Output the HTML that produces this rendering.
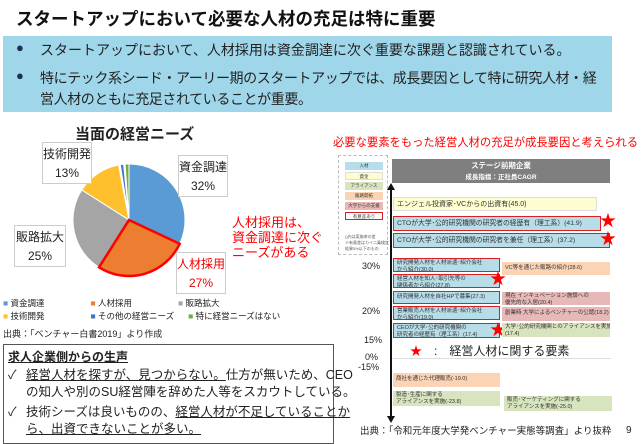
<!DOCTYPE html>
<html><head><meta charset="utf-8"><style>
*{margin:0;padding:0;box-sizing:border-box}
body{width:641px;height:440px;background:#fff;position:relative;overflow:hidden;font-family:"Liberation Sans","Noto Sans CJK JP",sans-serif;color:#222}
.a{position:absolute;white-space:nowrap}
.bar{position:absolute;font-size:5.5px;line-height:6.5px;padding:1px 3px;color:#333;white-space:nowrap;overflow:hidden}
.bl{background:#b7dde8}.ye{background:#fdfdd0;border:1px solid #ddd}.pe{background:#fbd3b5}.pk{background:#e6b9b8}.gr{background:#d7e4bd}
.rb{border:1.5px solid #d92020}
.star{position:absolute;color:#ff0000;font-size:16px;line-height:16px}
.lg{position:absolute;left:345px;width:38px;height:8px;font-size:4.5px;text-align:center;line-height:8px;color:#333}
</style></head><body>
<div class="a" style="left:16px;top:6px;font-size:17.5px;font-weight:bold;color:#111">スタートアップにおいて必要な人材の充足は特に重要</div>
<div class="a" style="left:3px;top:36px;width:609px;height:76px;background:#9fd6ea"></div>
<div class="a" style="left:16px;top:40px;font-size:13px;color:#1f2d5a">●</div>
<div class="a" style="left:40px;top:40px;font-size:14px">スタートアップにおいて、人材採用は資金調達に次ぐ重要な課題と認識されている。</div>
<div class="a" style="left:16px;top:68px;font-size:13px;color:#1f2d5a">●</div>
<div class="a" style="left:40px;top:68px;font-size:14px;line-height:21px;letter-spacing:-0.4px">特にテック系シード・アーリー期のスタートアップでは、成長要因として特に研究人材・経<br>営人材のともに充足されていることが重要。</div>

<div class="a" style="left:75px;top:123px;font-size:15px;font-weight:bold">当面の経営ニーズ</div>
<svg class="a" style="left:0;top:0" width="330" height="300">
<path d="M129,220 L129,164 A56,56 0 0 1 179.7,243.8Z" fill="#5b9bd5" stroke="#fff"/>
<path d="M129,220 L81.7,190 A56,56 0 0 1 118.5,165Z" fill="#ffc02e" stroke="#fff"/>
<path d="M129,220 L99,267.3 A56,56 0 0 1 81.7,190Z" fill="#a5a5a5" stroke="#fff"/>
<path d="M129,220 L120.3,164.7 A56,56 0 0 1 123.6,164.3Z" fill="#4472c4" stroke="#fff"/>
<path d="M129,220 L125.1,164.1 A56,56 0 0 1 129,164Z" fill="#70ad47" stroke="#fff"/>
<path d="M129,220 L179.7,243.8 A56,56 0 0 1 99,267.3Z" fill="#ed7d31" stroke="#f00" stroke-width="2.5"/>
</svg>
<div class="a" style="left:42px;top:142px;width:50px;height:42px;border:1px solid #ccc;background:#fff;font-size:12px;text-align:center;line-height:19px;padding-top:2px">技術開発<br>13%</div>
<div class="a" style="left:178px;top:155px;width:50px;height:42px;border:1px solid #ccc;background:#fff;font-size:12px;text-align:center;line-height:19px;padding-top:2px">資金調達<br>32%</div>
<div class="a" style="left:14px;top:225px;width:52px;height:42px;border:1px solid #ccc;background:#fff;font-size:12px;text-align:center;line-height:19px;padding-top:2px">販路拡大<br>25%</div>
<div class="a" style="left:176px;top:252px;width:50px;height:42px;border:1px solid #ccc;background:#fff;font-size:12px;text-align:center;line-height:19px;padding-top:2px;color:#e00">人材採用<br>27%</div>
<div class="a" style="left:232px;top:215px;font-size:13px;line-height:15px;color:#f00">人材採用は、<br>資金調達に次ぐ<br>ニーズがある</div>
<div class="a" style="left:3px;top:297px;font-size:8.5px;line-height:13px"><span style="color:#5b9bd5">■</span> 資金調達<span style="display:inline-block;width:46px"></span><span style="color:#ed7d31">■</span> 人材採用<span style="display:inline-block;width:46px"></span><span style="color:#a5a5a5">■</span> 販路拡大<br><span style="color:#ffc02e">■</span> 技術開発<span style="display:inline-block;width:46px"></span><span style="color:#4472c4">■</span> その他の経営ニーズ<span style="display:inline-block;width:14px"></span><span style="color:#70ad47">■</span> 特に経営ニーズはない</div>
<div class="a" style="left:3px;top:327px;font-size:9px">出典：「ベンチャー白書2019」より作成</div>
<div class="a" style="left:3px;top:344px;width:331px;height:100px;border:1px solid #555"></div>
<div class="a" style="left:8px;top:348px;font-size:12px;font-weight:bold;text-decoration:underline">求人企業側からの生声</div>
<div class="a" style="left:8px;top:367px;font-size:12.5px;line-height:17px">✓</div>
<div class="a" style="left:26px;top:367px;font-size:12.5px;line-height:17px"><u>経営人材を探すが、見つからない。</u>仕方が無いため、CEO<br>の知人や別のSU経営陣を辞めた人等をスカウトしている。</div>
<div class="a" style="left:8px;top:404px;font-size:12.5px;line-height:17px">✓</div>
<div class="a" style="left:26px;top:404px;font-size:12.5px;line-height:17px">技術シーズは良いものの、<u>経営人材が不足していることか<br>ら、出資できないことが多い。</u></div>

<div class="a" style="left:333px;top:134px;font-size:11.3px;color:#f00">必要な要素をもった経営人材の充足が成長要因と考えられる</div>
<div class="a" style="left:338px;top:155px;width:50px;height:100px;border:1px dashed #bbb"></div>
<div class="lg bl" style="top:162px">人材</div>
<div class="lg ye" style="top:172px">資金</div>
<div class="lg gr" style="top:182px">アライアンス</div>
<div class="lg pe" style="top:192px">販路開拓</div>
<div class="lg pk" style="top:202px">大学からの支援</div>
<div class="lg" style="top:212px;border:1px solid #d92020">有意差あり</div>
<div class="a" style="left:345px;top:234px;font-size:4px;line-height:6px;color:#555">()内は実施率の差<br>※有意差はカイ二乗検定<br>結果5%以下のもの</div>
<div class="a" style="left:392px;top:159px;width:218px;height:24px;background:#7f7f7f;color:#fff;text-align:center;font-size:7.5px;font-weight:bold;line-height:11px;padding-top:1px">ステージ前期企業<br><span style="font-size:6.5px">成長指標：正社員CAGR</span></div>
<div class="a" style="left:390px;top:187px;width:2px;height:230px;background:#111"></div>
<div class="a" style="left:387px;top:183px;width:0;height:0;border-left:4px solid transparent;border-right:4px solid transparent;border-bottom:7px solid #111"></div>
<div class="a" style="left:387px;top:416px;width:0;height:0;border-left:4px solid transparent;border-right:4px solid transparent;border-top:7px solid #111"></div>
<div class="bar ye" style="left:393px;top:197px;width:204px;height:14px;font-size:7px;line-height:11px">エンジェル投資家･VCからの出資有(45.0)</div>
<div class="bar bl rb" style="left:393px;top:216px;width:208px;height:15px;font-size:6.8px;line-height:11px">CTOが大学･公的研究機関の研究者の経歴有（理工系）(41.9)</div>
<div class="bar bl rb" style="left:393px;top:233px;width:217px;height:15px;font-size:6.8px;line-height:11px">CTOが大学･公的研究機関の研究者を兼任（理工系）(37.2)</div>
<div class="star" style="left:600px;top:214px">★</div>
<div class="star" style="left:600px;top:232px">★</div>
<div class="a" style="left:362px;top:261px;font-size:9px">30%</div>
<div class="bar bl rb" style="left:393px;top:258px;width:107px;height:14px">研究開発人材を人材派遣･紹介会社<br>から紹介(30.0)</div>
<div class="bar pe" style="left:502px;top:262px;width:108px;height:13px;line-height:11px">VC等を通じた販路の紹介(28.6)</div>
<div class="bar bl rb" style="left:393px;top:274px;width:107px;height:14px">経営人材を知人･取引先等の<br>関係者から紹介(27.8)</div>
<div class="star" style="left:490px;top:272px">★</div>
<div class="bar bl rb" style="left:393px;top:291px;width:107px;height:13px;line-height:9px">研究開発人材を自社HPで募集(27.3)</div>
<div class="bar pk" style="left:502px;top:292px;width:108px;height:13px">現在 インキュベーション施設への<br>優先的な入居(20.4)</div>
<div class="a" style="left:362px;top:306px;font-size:9px">20%</div>
<div class="bar bl rb" style="left:393px;top:306px;width:107px;height:14px">営業販売人材を人材派遣･紹介会社<br>から紹介(19.0)</div>
<div class="bar pk" style="left:502px;top:307px;width:108px;height:14px;line-height:11px">創業時 大学によるベンチャーの公認(18.2)</div>
<div class="a" style="left:364px;top:335px;font-size:9px">15%</div>
<div class="bar bl rb" style="left:393px;top:323px;width:107px;height:15px">CEOが大学･公的研究機関の<br>研究者の経歴有（理工系）(17.4)</div>
<div class="star" style="left:490px;top:323px">★</div>
<div class="bar gr" style="left:502px;top:323px;width:108px;height:14px">大学･公的研究機関とのアライアンスを実施<br>(17.4)</div>
<div class="a" style="left:410px;top:342px;font-size:12px"><span style="color:#f00">★</span>　:　経営人材に関する要素</div>
<div class="a" style="left:365px;top:352px;font-size:9px">0%</div>
<div class="a" style="left:393px;top:358px;width:218px;height:1px;background:#ddd"></div>
<div class="a" style="left:358px;top:362px;font-size:9px">-15%</div>
<div class="bar pe" style="left:393px;top:373px;width:107px;height:14px;line-height:11px">商社を通じた代理販売(-19.0)</div>
<div class="bar gr" style="left:393px;top:391px;width:107px;height:15px">製造･生産に関する<br>アライアンスを実施(-23.8)</div>
<div class="bar gr" style="left:504px;top:396px;width:108px;height:15px">販売･マーケティングに関する<br>アライアンスを実施(-25.0)</div>
<div class="a" style="left:360px;top:423px;font-size:9.5px">出典：「令和元年度大学発ベンチャー実態等調査」より抜粋</div>
<div class="a" style="left:626px;top:425px;font-size:10px">9</div>
</body></html>
